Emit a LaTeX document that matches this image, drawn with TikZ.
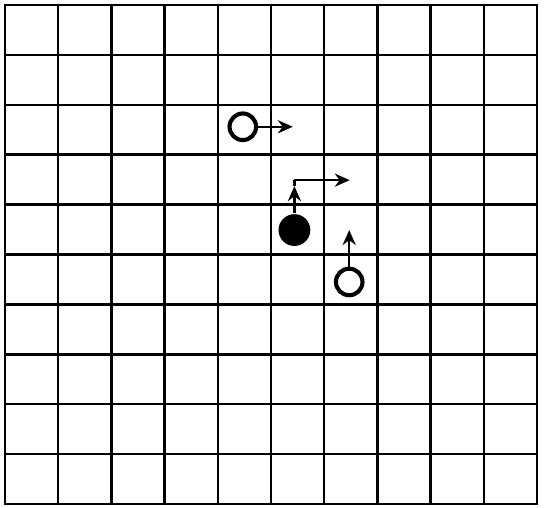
\documentclass[tikz,border=0pt]{standalone}
\usepackage{tikz}
\usetikzlibrary{arrows.meta}

\begin{document}
\begin{tikzpicture}[auto, thick, >={Stealth[length=8pt, width=7pt]}, x=1cm, y=0.938cm,
    gridline/.style={line width=1.3pt, line cap=rect},
    open/.style={circle, draw, line width=2.2pt, minimum size=14.2pt, inner sep=0pt},
    full/.style={circle, fill, minimum size=17pt, inner sep=0pt},
    move/.style={->, line width=1.3pt}]
        \useasboundingbox (-0.094,-0.06) rectangle (10.169,10.1);
        \foreach \i in {0,...,10} {
          \draw[gridline] (\i,0) -- (\i,10);
          \draw[gridline] (0,\i) -- (10,\i);
        }
        \node[open] (a) at (4.47,7.56) {};
        \node[full] (b) at (5.44,5.49) {};
        \node[open] (c) at (6.47,4.45) {};
        \coordinate (a end) at (5.41,7.56);
        \coordinate (b tip) at (5.44,6.37);
        \coordinate (b turn) at (5.44,6.49);
        \coordinate (b end) at (6.48,6.49);
        \coordinate (c end) at (6.47,5.49);
        \draw[move] (a) -- (a end);
        \draw[move] (b) -- (b tip);
        \draw[line width=1.3pt] (b tip) -- (b turn);
        \draw[move] (b turn) -- (b end);
        \draw[move] (c) -- (c end);
      \end{tikzpicture}
\end{document}
